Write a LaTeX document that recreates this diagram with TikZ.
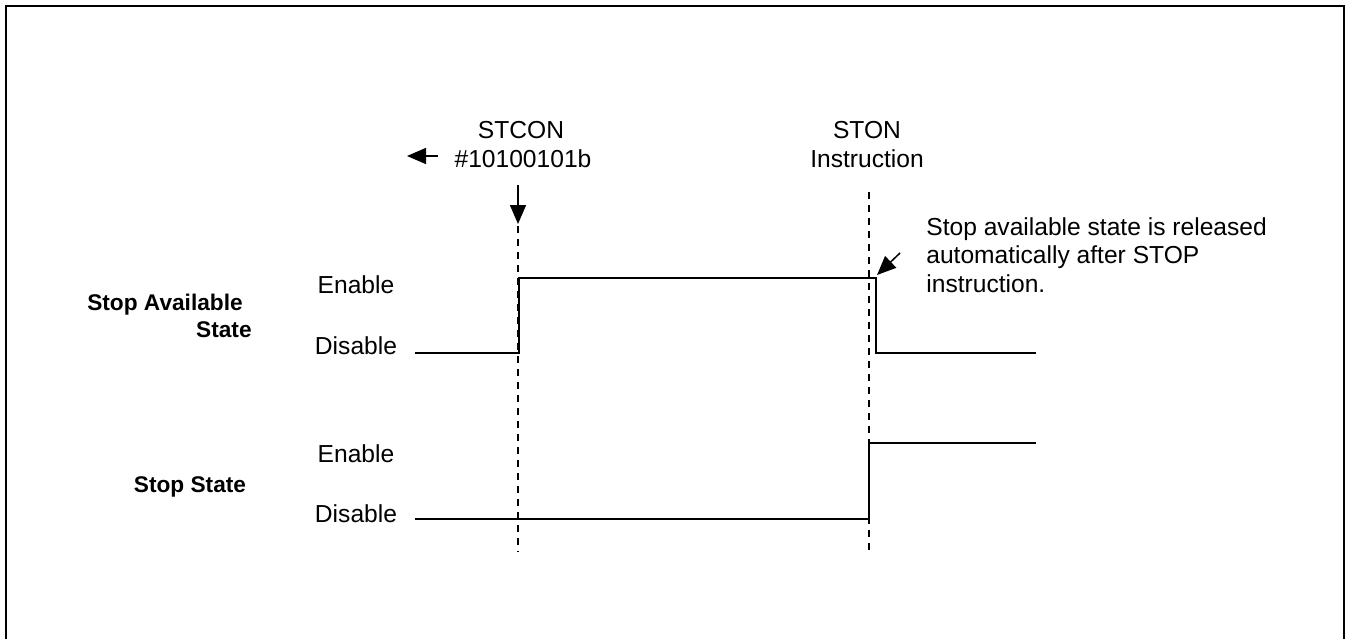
\documentclass[tikz,border=0pt]{standalone}
\usepackage{fontspec}
\setmainfont{Liberation Sans}
\usetikzlibrary{arrows.meta,positioning}

\begin{document}
\begin{tikzpicture}[x=0.02cm,y=-0.02cm,
    lbl/.style={inner sep=0pt,font=\fontsize{14}{16}\selectfont},
    bold/.style={lbl,font=\fontsize{12.9}{15}\selectfont\bfseries},
    sig/.style={line width=0.04cm},
    guide/.style={line width=0.028cm,dash pattern=on 0.14cm off 0.12cm},
    pointer/.style={line width=0.03cm,-{Triangle[length=0.38cm,width=0.32cm]}}]
      \useasboundingbox (0,0) rectangle (1351,639);
      % frame, open at the bottom
      \draw[line width=0.04cm] (6,639) -- (6,6) -- (1344,6) -- (1344,639);

      % labels on the left
      \node[bold,anchor=base east] (availA) at (243,310) {Stop Available};
      \node[bold,anchor=base east] (availB) at (252,337) {State};
      \node[bold,anchor=base] (stopst) at (190,492) {Stop State};
      \node[lbl,anchor=base] (en1) at (356,293) {Enable};
      \node[lbl,anchor=base] (dis1) at (356,354) {Disable};
      \node[lbl,anchor=base] (en2) at (356,462) {Enable};
      \node[lbl,anchor=base] (dis2) at (356,522) {Disable};

      % events on top
      \node[lbl,anchor=base] (stcon) at (521,138) {STCON};
      \node[lbl,anchor=base] (stconval) at (523,167) {\#10100101b};
      \node[lbl,anchor=base] (ston) at (867,138) {STON};
      \node[lbl,anchor=base] (stoninstr) at (867,167) {Instruction};
      \node[lbl,anchor=base west,align=left] (note) at (926,292)
        {Stop available state is released\\automatically after STOP\\instruction.};

      % arrows
      \coordinate (backtail) at (438,156);
      \coordinate (backtip) at (407,156);
      \coordinate (writetail) at (518,185);
      \coordinate (writetip) at (518,224);
      \coordinate (notetail) at (900,253);
      \coordinate (notetip) at (877,275);
      \draw[pointer] (backtail) -- (backtip);
      \draw[pointer] (writetail) -- (writetip);
      \draw[pointer] (notetail) -- (notetip);

      % dashed time marks
      \coordinate (markA) at (518,226);
      \coordinate (markAend) at (518,552);
      \coordinate (markB) at (869,192);
      \coordinate (markBend) at (869,552);
      \draw[guide] (markA) -- (markAend);
      \draw[guide] (markB) -- (markBend);

      % waveforms
      \draw[sig] (415,353) -- (519,353) -- (519,278) -- (876,278) -- (876,353) -- (1036,353);
      \draw[sig] (415,519) -- (869,519) -- (869,443) -- (1036,443);
    \end{tikzpicture}
\end{document}
